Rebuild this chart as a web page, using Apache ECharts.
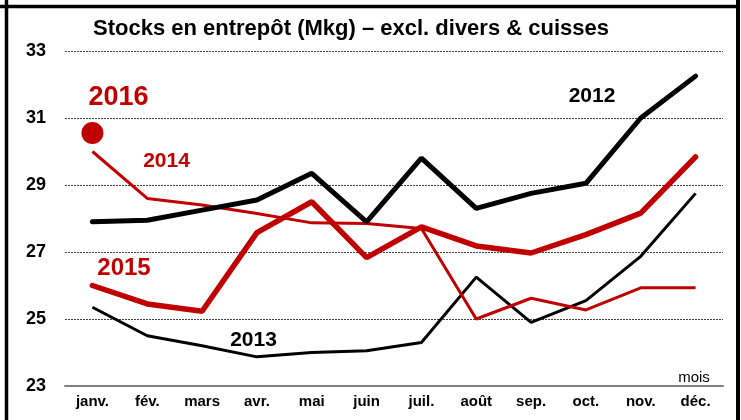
<!DOCTYPE html>
<html>
<head>
<meta charset="utf-8">
<script src="https://cdn.jsdelivr.net/npm/echarts@6/dist/echarts.min.js"></script>
<style>
  html, body { margin: 0; padding: 0; background: #fff; }
  #chart { width: 741px; height: 420px; }
</style>
</head>
<body>
<div id="chart"></div>
<script>
// months
var months = ['janv.', 'fév.', 'mars', 'avr.', 'mai', 'juin', 'juil.', 'août', 'sep.', 'oct.', 'nov.', 'déc.'];

// stocks, Mkg
var s2012 = [27.9, 27.95, 28.25, 28.55, 29.35, 27.9, 29.8, 28.3, 28.75, 29.05, 31.0, 32.25];
var s2013 = [25.35, 24.5, 24.2, 23.87, 24.0, 24.05, 24.3, 26.25, 24.9, 25.55, 26.87, 28.75];
var s2014 = [30.0, 28.6, 28.4, 28.15, 27.87, 27.85, 27.7, 25.0, 25.62, 25.27, 25.93, 25.93];
var s2015 = [26.0, 25.45, 25.23, 27.58, 28.5, 26.83, 27.75, 27.18, 26.97, 27.52, 28.16, 29.84];
var s2016 = [30.55];

var yTicks = [23, 25, 27, 29, 31, 33];

var red = '#c00000';
var font = "'Liberation Sans', Arial, sans-serif";

var chart = echarts.init(document.getElementById('chart'));

var option = {
    animation: false,
    backgroundColor: '#fff',
    grid: {
        left: 65,
        right: 18,
        top: 51,
        bottom: 34
    },
    xAxis: {
        type: 'category',
        data: months,
        boundaryGap: true,
        axisLine: { show: true, lineStyle: { color: '#808080', width: 2 } },
        axisTick: { show: false },
        axisLabel: {
            color: '#000',
            fontFamily: font,
            fontWeight: 'bold',
            fontSize: 15,
            margin: 8,
            interval: 0
        },
        splitLine: { show: false }
    },
    yAxis: {
        type: 'value',
        min: yTicks[0],
        max: yTicks[yTicks.length - 1],
        interval: 2,
        axisLine: { show: false },
        axisTick: { show: false },
        axisLabel: {
            color: '#000',
            fontFamily: font,
            fontWeight: 'bold',
            fontSize: 18,
            margin: 19
        },
        splitLine: {
            show: true,
            lineStyle: { color: '#404040', width: 1, type: [2, 1] }
        }
    },
    series: [
        {
            name: '2013', type: 'line', data: s2013, symbol: 'none',
            lineStyle: { color: '#000', width: 3 }
        },
        {
            name: '2014', type: 'line', data: s2014, symbol: 'none',
            lineStyle: { color: red, width: 3 }
        },
        {
            name: '2015', type: 'line', data: s2015, symbol: 'none',
            lineStyle: { color: red, width: 5.5, cap: 'round' }
        },
        {
            name: '2012', type: 'line', data: s2012, symbol: 'none',
            lineStyle: { color: '#000', width: 5, cap: 'round' }
        },
        {
            name: '2016', type: 'scatter', data: s2016,
            symbol: 'circle', symbolSize: 22,
            itemStyle: { color: red, opacity: 1 }
        }
    ],
    graphic: [
        // frame
        { type: 'line', shape: { x1: 0, y1: 6.5, x2: 738, y2: 6.5 }, style: { stroke: '#000', lineWidth: 3.5 } },
        { type: 'line', shape: { x1: 6.5, y1: 0, x2: 6.5, y2: 420 }, style: { stroke: '#000', lineWidth: 3.5 } },
        { type: 'line', shape: { x1: 738, y1: 0, x2: 738, y2: 420 }, style: { stroke: '#000', lineWidth: 4 } },
        // title
        {
            type: 'text', x: 351, y: 29,
            style: {
                text: 'Stocks en entrepôt (Mkg) – excl. divers & cuisses',
                fill: '#000', font: 'bold 22px ' + font,
                textAlign: 'center', textVerticalAlign: 'middle'
            }
        },
        {
            type: 'text', x: 694, y: 378,
            style: {
                text: 'mois', fill: '#000', font: '15px ' + font,
                textAlign: 'center', textVerticalAlign: 'middle'
            }
        },
        // year labels
        {
            type: 'text', x: 118.5, y: 98,
            style: { text: '2016', fill: red, font: 'bold 27px ' + font, textAlign: 'center', textVerticalAlign: 'middle' }
        },
        {
            type: 'text', x: 166.5, y: 161.5,
            style: { text: '2014', fill: red, font: 'bold 21px ' + font, textAlign: 'center', textVerticalAlign: 'middle' }
        },
        {
            type: 'text', x: 124, y: 268,
            style: { text: '2015', fill: red, font: 'bold 24px ' + font, textAlign: 'center', textVerticalAlign: 'middle' }
        },
        {
            type: 'text', x: 253.5, y: 340,
            style: { text: '2013', fill: '#000', font: 'bold 21px ' + font, textAlign: 'center', textVerticalAlign: 'middle' }
        },
        {
            type: 'text', x: 592, y: 96.5,
            style: { text: '2012', fill: '#000', font: 'bold 21px ' + font, textAlign: 'center', textVerticalAlign: 'middle' }
        }
    ]
};

chart.setOption(option);
</script>
</body>
</html>
